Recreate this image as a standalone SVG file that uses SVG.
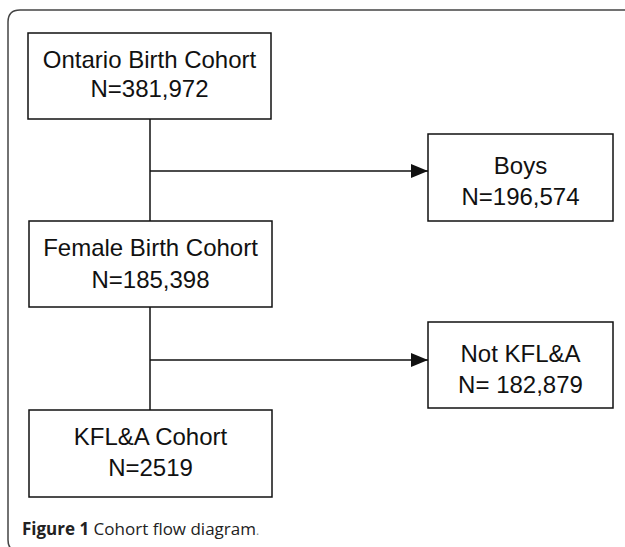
<svg xmlns="http://www.w3.org/2000/svg" width="625" height="547" viewBox="0 0 625 547">
<style>
.box{fill:#fff;stroke:#111;stroke-width:1.5}
.t{font-family:"Liberation Sans",Arial,sans-serif;font-size:24px;fill:#111;text-anchor:middle}
.conn{stroke:#111;stroke-width:1.5;fill:none}
.cap{font-family:"Open Sans","Liberation Sans",sans-serif;font-size:17px;fill:#222}
</style>
<defs>
<marker id="arr" markerWidth="18" markerHeight="14" refX="17" refY="7" orient="auto" markerUnits="userSpaceOnUse">
<path d="M0,0 L17,7 L0,14 Z" fill="#111"/>
</marker>
</defs>
<rect width="625" height="547" fill="#fff"/>
<path d="M625,10 H20 Q8,10 8,22 V540 Q8,547 12,549" fill="none" stroke="#444" stroke-width="1.5"/>
<g id="connectors">
<line class="conn" x1="150" y1="119" x2="150" y2="221"/>
<line class="conn" x1="150" y1="307" x2="150" y2="410"/>
<line class="conn" x1="150" y1="171" x2="428" y2="171" marker-end="url(#arr)"/>
<line class="conn" x1="150" y1="360" x2="428" y2="360" marker-end="url(#arr)"/>
</g>
<g id="ontario">
<rect class="box" x="28" y="33" width="243" height="86"/>
<text class="t" x="149.5" y="68">Ontario Birth Cohort</text>
<text class="t" x="149.5" y="97">N=381,972</text>
</g>
<g id="boys">
<rect class="box" x="428" y="134" width="185" height="87"/>
<text class="t" x="520.5" y="174">Boys</text>
<text class="t" x="520.5" y="205">N=196,574</text>
</g>
<g id="female">
<rect class="box" x="29" y="221" width="243" height="86"/>
<text class="t" x="150.5" y="256">Female Birth Cohort</text>
<text class="t" x="150.5" y="288">N=185,398</text>
</g>
<g id="notkfla">
<rect class="box" x="428" y="322" width="185" height="86"/>
<text class="t" x="520.5" y="362">Not KFL&amp;A</text>
<text class="t" x="520.5" y="393">N= 182,879</text>
</g>
<g id="kfla">
<rect class="box" x="29" y="410" width="243" height="87"/>
<text class="t" x="150.5" y="445">KFL&amp;A Cohort</text>
<text class="t" x="150.5" y="476">N=2519</text>
</g>
<text class="cap" x="22" y="535"><tspan font-weight="bold">Figure 1</tspan> Cohort flow diagram<tspan fill="#888" font-size="12">.</tspan></text>
</svg>
